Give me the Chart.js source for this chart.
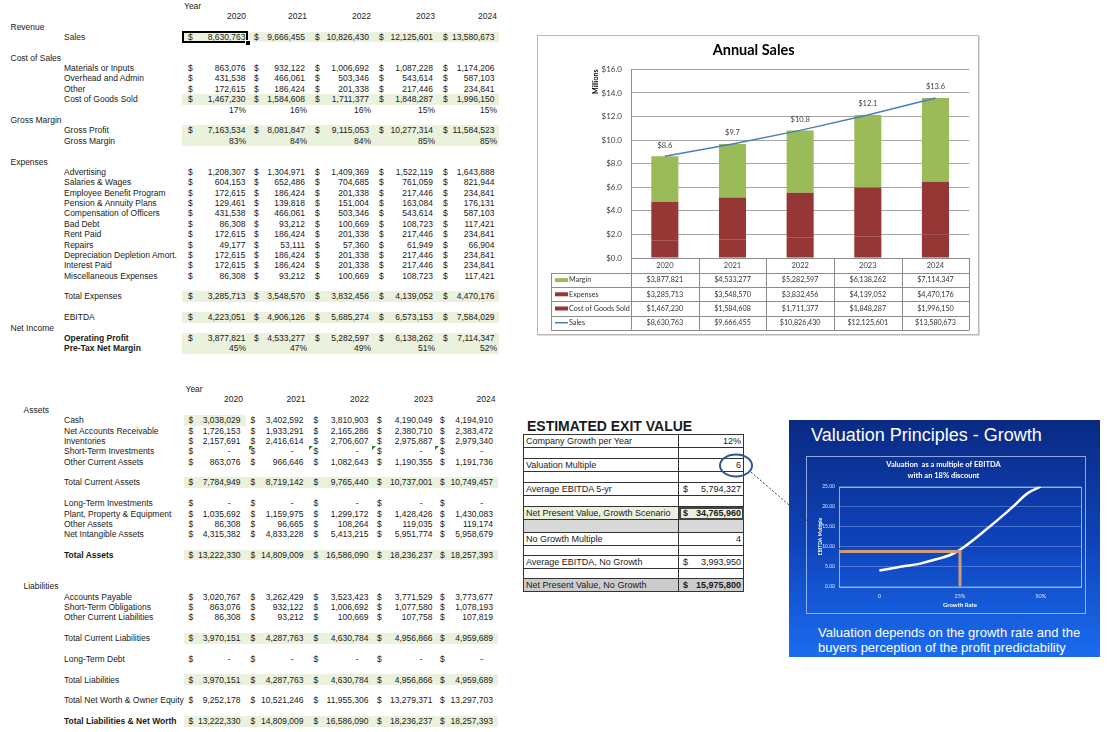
<!DOCTYPE html>
<html>
<head>
<meta charset="utf-8">
<script src="https://cdn.jsdelivr.net/npm/chart.js@4.4.1/dist/chart.umd.min.js"></script>
<style>
body{margin:0;background:#fff;width:1117px;height:732px;position:relative;overflow:hidden;font-family:"Liberation Sans",Arial,sans-serif;color:#1a1a1a}
.t{position:absolute;height:12px;line-height:12px;font-size:8.5px;white-space:nowrap}
.band{position:absolute;background:#eaf1dd}
#salesBox{position:absolute;left:537px;top:35px;width:440px;height:298px;border:1px solid #b8b8b8;box-shadow:1px 1px 0 #dcdcdc}
#salesCanvas{position:absolute;left:538px;top:36px}
#exitTitle{position:absolute;left:527px;top:418px;font-size:14px;font-weight:bold;line-height:16px}
#exitTable{position:absolute;left:523px;top:434px;border-collapse:collapse;font-size:9px;table-layout:fixed}
#exitTable td{border:1px solid #333;padding:0 2px;white-space:nowrap;line-height:10px}
#panel{position:absolute;left:789px;top:420px;width:311px;height:237px;background:linear-gradient(to bottom,#0a2a83 0%,#0e42b8 50%,#1a6cf0 100%)}
#panelTitle{position:absolute;left:22px;top:4px;font-size:18px;color:#fff;line-height:22px}
#panelText{position:absolute;left:29px;top:205px;font-size:13px;color:#fff;line-height:15px}
#valFrame{position:absolute;left:17px;top:36px;width:280px;height:158px;border:1px solid rgba(190,205,250,0.75);box-sizing:border-box}
#valCanvas{position:absolute;left:17px;top:36px}
svg{position:absolute;left:0;top:0}
</style>
</head>
<body>
<div id="sheet"></div>
<div id="salesBox"></div>
<canvas id="salesCanvas" width="440" height="297" style="width:440px;height:297px"></canvas>
<div id="exitTitle">ESTIMATED EXIT VALUE</div>
<table id="exitTable"><colgroup><col style="width:155px"><col style="width:65px"></colgroup><tbody id="exitBody"></tbody></table>
<div id="panel">
  <div id="panelTitle">Valuation Principles - Growth</div>
  <div id="valFrame"></div>
  <canvas id="valCanvas" width="280" height="158" style="width:280px;height:158px"></canvas>
  <div id="panelText">Valuation depends on the growth rate and the<br>buyers perception of the profit predictability</div>
</div>
<svg width="1117" height="732">
  <ellipse cx="736" cy="465.5" rx="16" ry="11" fill="none" stroke="#2f5597" stroke-width="2"/>
  <line x1="751" y1="472" x2="842" y2="551" stroke="#333" stroke-width="1" stroke-dasharray="2,2"/>
</svg>
<script>
// ---- data ----
const years = ['2020', '2021', '2022', '2023', '2024'];
const salesValues = [8630763, 9666455, 10826430, 12125601, 13580673];
const cogsValues = [1467230, 1584608, 1711377, 1848287, 1996150];
const expenseValues = [3285713, 3548570, 3832456, 4139052, 4470176];
const marginValues = [3877821, 4533277, 5282597, 6138262, 7114347];
const grossProfitValues = [7163534, 8081847, 9115053, 10277314, 11584523];
const ebitdaValues = [4223051, 4906126, 5685274, 6573153, 7584029];
const cogsPct = [17, 16, 16, 15, 15];
const grossMarginPct = [83, 84, 84, 85, 85];
const netMarginPct = [45, 47, 49, 51, 52];

const costItems = [
  ['Materials or Inputs', [863076, 932122, 1006692, 1087228, 1174206]],
  ['Overhead and Admin', [431538, 466061, 503346, 543614, 587103]],
  ['Other', [172615, 186424, 201338, 217446, 234841]]
];
const expenseItems = [
  ['Advertising', [1208307, 1304971, 1409369, 1522119, 1643888]],
  ['Salaries & Wages', [604153, 652486, 704685, 761059, 821944]],
  ['Employee Benefit Program', [172615, 186424, 201338, 217446, 234841]],
  ['Pension & Annuity Plans', [129461, 139818, 151004, 163084, 176131]],
  ['Compensation of Officers', [431538, 466061, 503346, 543614, 587103]],
  ['Bad Debt', [86308, 93212, 100669, 108723, 117421]],
  ['Rent Paid', [172615, 186424, 201338, 217446, 234841]],
  ['Repairs', [49177, 53111, 57360, 61949, 66904]],
  ['Depreciation Depletion Amort.', [172615, 186424, 201338, 217446, 234841]],
  ['Interest Paid', [172615, 186424, 201338, 217446, 234841]],
  ['Miscellaneous Expenses', [86308, 93212, 100669, 108723, 117421]]
];

const currentAssetItems = [
  ['Cash', [3038029, 3402592, 3810903, 4190049, 4194910]],
  ['Net Accounts Receivable', [1726153, 1933291, 2165286, 2380710, 2383472]],
  ['Inventories', [2157691, 2416614, 2706607, 2975887, 2979340]],
  ['Short-Term Investments', [0, 0, 0, 0, 0]],
  ['Other Current Assets', [863076, 966646, 1082643, 1190355, 1191736]]
];
const totalCurrentAssets = [7784949, 8719142, 9765440, 10737001, 10749457];
const longTermItems = [
  ['Long-Term Investments', [0, 0, 0, 0, 0]],
  ['Plant, Property & Equipment', [1035692, 1159975, 1299172, 1428426, 1430083]],
  ['Other Assets', [86308, 96665, 108264, 119035, 119174]],
  ['Net Intangible Assets', [4315382, 4833228, 5413215, 5951774, 5958679]]
];
const totalAssets = [13222330, 14809009, 16586090, 18236237, 18257393];
const liabilityItems = [
  ['Accounts Payable', [3020767, 3262429, 3523423, 3771529, 3773677]],
  ['Short-Term Obligations', [863076, 932122, 1006692, 1077580, 1078193]],
  ['Other Current Liabilities', [86308, 93212, 100669, 107758, 107819]]
];
const totalCurrentLiabilities = [3970151, 4287763, 4630784, 4956866, 4959689];
const longTermDebt = [0, 0, 0, 0, 0];
const totalLiabilities = [3970151, 4287763, 4630784, 4956866, 4959689];
const netWorth = [9252178, 10521246, 11955306, 13279371, 13297703];
const totalLiabNetWorth = [13222330, 14809009, 16586090, 18236237, 18257393];

const exitLabels = ['Company Growth per Year', '', 'Valuation Multiple', '', 'Average EBITDA 5-yr', '',
  'Net Present Value, Growth Scenario', '', 'No Growth Multiple', '', 'Average EBITDA, No Growth', '',
  'Net Present Value, No Growth'];
const exitValues = ['12%', '', '6', '', 5794327, '', 34765960, '', '4', '', 3993950, '', 15975800];

const growthRates = [0, 7, 13, 17, 22, 25, 33, 41, 46, 50];
const ebitdaMultiples = [4.0, 5.0, 5.8, 6.7, 7.9, 9.2, 14.2, 19.7, 23.4, 25.0];
const growthTicks = [0, 25, 50];
const markerRate = 25;
const markerMultiple = 8.8;

// ---- spreadsheet ----
const sheet = document.getElementById('sheet');
const fmt = v => v.toLocaleString('en-US');

function txt(s, x, y, o = {}) {
  const d = document.createElement('div');
  d.className = 't';
  d.textContent = s;
  d.style.top = (y - 6) + 'px';
  if (o.right) {
    d.style.left = (x - 200) + 'px';
    d.style.width = '200px';
    d.style.textAlign = 'right';
  } else {
    d.style.left = x + 'px';
  }
  if (o.bold) d.style.fontWeight = 'bold';
  sheet.appendChild(d);
}
function band(x1, x2, y1, y2) {
  const d = document.createElement('div');
  d.className = 'band';
  d.style.left = x1 + 'px'; d.style.width = (x2 - x1) + 'px';
  d.style.top = y1 + 'px'; d.style.height = (y2 - y1) + 'px';
  sheet.appendChild(d);
}

const top1 = { y0: 5.8, dollar: [188, 254, 315, 379, 443], right: [245.5, 305, 369, 433, 494.5],
  pct: [246, 307, 371, 435, 497], band: [182, 499] };
const top2 = { y0: 389, dollar: [188.5, 250.5, 313.5, 377, 440], right: [240.5, 303.5, 368.5, 432.5, 493],
  pct: [243, 305.5, 369, 433, 495.5], band: [183.5, 497.5] };
const rowH = 10.38;

function rowY(s, i) { return s.y0 + i * rowH; }
function moneyRow(s, i, label, vals, o = {}) {
  const y = rowY(s, i);
  txt(label, 64, y, o);
  vals.forEach((v, k) => {
    txt('$', s.dollar[k], y);
    if (v === 0) txt('-', s.right[k] - 10, y, { right: true });
    else txt(fmt(v), s.right[k], y, { right: true });
  });
}
function pctRow(s, i, label, vals, o = {}) {
  const y = rowY(s, i);
  if (label) txt(label, 64, y, o);
  vals.forEach((v, k) => txt(v + '%', s.pct[k], y, { right: true }));
}
function bandRows(s, i1, i2) {
  band(s.band[0], s.band[1], rowY(s, i1) - 5.4, rowY(s, i2) + 5.4);
}
function header(s, x) {
  txt('Year', x, rowY(s, 0));
  years.forEach((yr, k) => txt(yr, s.pct[k], rowY(s, 1), { right: true }));
}

// income statement
[[3, 3], [9, 9], [12, 13], [28, 28], [30, 30], [32, 33]].forEach(r => bandRows(top1, r[0], r[1]));
header(top1, 184);
txt('Revenue', 10.5, rowY(top1, 2));
moneyRow(top1, 3, 'Sales', salesValues);
txt('Cost of Sales', 10.5, rowY(top1, 5));
costItems.forEach((r, k) => moneyRow(top1, 6 + k, r[0], r[1]));
moneyRow(top1, 9, 'Cost of Goods Sold', cogsValues);
pctRow(top1, 10, '', cogsPct);
txt('Gross Margin', 10.5, rowY(top1, 11));
moneyRow(top1, 12, 'Gross Profit', grossProfitValues);
pctRow(top1, 13, 'Gross Margin', grossMarginPct);
txt('Expenses', 10.5, rowY(top1, 15));
expenseItems.forEach((r, k) => moneyRow(top1, 16 + k, r[0], r[1]));
moneyRow(top1, 28, 'Total Expenses', expenseValues);
moneyRow(top1, 30, 'EBITDA', ebitdaValues);
txt('Net Income', 10.5, rowY(top1, 31));
moneyRow(top1, 32, 'Operating Profit', marginValues, { bold: true });
pctRow(top1, 33, 'Pre-Tax Net Margin', netMarginPct, { bold: true });

// selected cell
const sel = document.createElement('div');
sel.style.cssText = 'position:absolute;left:182px;top:31px;width:62px;height:8px;border:2px solid #000';
sheet.appendChild(sel);
const handle = document.createElement('div');
handle.style.cssText = 'position:absolute;left:245px;top:40px;width:4px;height:4px;background:#000;border:1px solid #fff';
sheet.appendChild(handle);

// balance sheet
band(183.5, 246, rowY(top2, 3) - 5.4, rowY(top2, 3) + 5.4);
[[9, 9], [16, 16], [24, 24], [28, 28], [32, 32]].forEach(r => bandRows(top2, r[0], r[1]));
header(top2, 185.5);
txt('Assets', 23.5, rowY(top2, 2));
currentAssetItems.forEach((r, k) => moneyRow(top2, 3 + k, r[0], r[1]));
[249, 309, 371.5, 435].forEach(x => {
  const tri = document.createElement('div');
  tri.style.cssText = 'position:absolute;left:' + x + 'px;top:' + (rowY(top2, 6) - 5) + 'px;width:0;height:0;border-top:4px solid #1f8a1f;border-right:4px solid transparent';
  sheet.appendChild(tri);
});
moneyRow(top2, 9, 'Total Current Assets', totalCurrentAssets);
longTermItems.forEach((r, k) => moneyRow(top2, 11 + k, r[0], r[1]));
moneyRow(top2, 16, 'Total Assets', totalAssets, { bold: true });
txt('Liabilities', 23.5, rowY(top2, 19));
liabilityItems.forEach((r, k) => moneyRow(top2, 20 + k, r[0], r[1]));
moneyRow(top2, 24, 'Total Current Liabilities', totalCurrentLiabilities);
moneyRow(top2, 26, 'Long-Term Debt', longTermDebt);
moneyRow(top2, 28, 'Total Liabilities', totalLiabilities);
moneyRow(top2, 30, 'Total Net Worth & Owner Equity', netWorth);
moneyRow(top2, 32, 'Total Liabilities & Net Worth', totalLiabNetWorth, { bold: true });

// exit value table
const exitHeights = [13, 11, 13, 11, 13, 11, 13, 13, 13, 10, 13, 10, 13];
const exitBody = document.getElementById('exitBody');
exitLabels.forEach((lab, i) => {
  const tr = document.createElement('tr');
  tr.style.height = exitHeights[i] + 'px';
  const a = document.createElement('td');
  const b = document.createElement('td');
  a.textContent = lab;
  const v = exitValues[i];
  if (typeof v === 'number') {
    b.innerHTML = '<span style="float:left;padding-left:2px">$</span>' + fmt(v);
  } else {
    b.textContent = v;
  }
  b.style.textAlign = 'right';
  if (i === 6) {
    a.style.background = '#eaf1dd'; b.style.background = '#eaf1dd';
    b.style.fontWeight = 'bold'; b.style.outline = '2px solid #444'; b.style.outlineOffset = '-2px';
  }
  if (i === 7) { a.style.background = '#d9d9d9'; b.style.background = '#d9d9d9'; }
  if (i === 12) { a.style.background = '#cccccc'; b.style.background = '#cccccc'; b.style.fontWeight = 'bold'; }
  tr.appendChild(a); tr.appendChild(b);
  exitBody.appendChild(tr);
});

// ---- Annual Sales chart ----
Chart.defaults.font.family = 'Lato';
const toM = v => v / 1e6;

const salesTable = {
  id: 'salesTable',
  afterDatasetsDraw(chart) {
    const ctx = chart.ctx;
    const meta = chart.getDatasetMeta(0);
    ctx.save();
    ctx.font = '7.5px Lato';
    ctx.fillStyle = '#404040';
    ctx.textAlign = 'center';
    ctx.textBaseline = 'middle';
    meta.data.forEach((p, i) => ctx.fillText('$' + toM(salesValues[i]).toFixed(1), p.x, p.y - 11));
    ctx.restore();
  },
  afterDraw(chart) {
    const ctx = chart.ctx, xs = chart.scales.x;
    const step = (xs.right - xs.left) / years.length;
    const top = xs.bottom, h = 14.2, keyLeft = 13;
    const rows = [
      ['Margin', marginValues, '#9bbb59', 'box'],
      ['Expenses', expenseValues, '#953735', 'box'],
      ['Cost of Goods Sold', cogsValues, '#953735', 'box'],
      ['Sales', salesValues, '#4a7ebb', 'line']
    ];
    const bottom = top + rows.length * h;
    ctx.save();
    ctx.strokeStyle = '#8c8c8c';
    ctx.lineWidth = 1;
    const seg = (x1, y1, x2, y2) => { ctx.beginPath(); ctx.moveTo(x1, y1); ctx.lineTo(x2, y2); ctx.stroke(); };
    for (let r = 0; r <= rows.length; r++) {
      const y = Math.round(top + r * h) + 0.5;
      seg(keyLeft, y, xs.right, y);
    }
    seg(keyLeft + 0.5, top, keyLeft + 0.5, bottom);
    for (let i = 0; i <= years.length; i++) {
      const x = Math.round(xs.left + i * step) + 0.5;
      seg(x, xs.top, x, bottom);
    }
    ctx.font = '7.2px Lato';
    ctx.textBaseline = 'middle';
    rows.forEach((r, ri) => {
      const y = top + ri * h + h / 2;
      if (r[3] === 'box') {
        ctx.fillStyle = r[2];
        ctx.fillRect(keyLeft + 4, y - 2, 13, 4);
      } else {
        ctx.strokeStyle = r[2];
        ctx.lineWidth = 1.5;
        seg(keyLeft + 4, y, keyLeft + 17, y);
      }
      ctx.fillStyle = '#333';
      ctx.textAlign = 'left';
      ctx.fillText(r[0], keyLeft + 18, y);
      ctx.textAlign = 'center';
      r[1].forEach((v, i) => ctx.fillText('$' + fmt(v), xs.getPixelForValue(i), y));
    });
    ctx.restore();
  }
};

new Chart(document.getElementById('salesCanvas'), {
  data: {
    labels: years,
    datasets: [
      { type: 'line', label: 'Sales', data: salesValues.map(toM), borderColor: '#4a7ebb', borderWidth: 1.5,
        pointRadius: 0, tension: 0, stack: 'sales', order: 0 },
      { type: 'bar', label: 'Cost of Goods Sold', data: cogsValues.map(toM), backgroundColor: '#953735', stack: 'cost', order: 1 },
      { type: 'bar', label: 'Expenses', data: expenseValues.map(toM), backgroundColor: '#953735', stack: 'cost', order: 1 },
      { type: 'bar', label: 'Margin', data: marginValues.map(toM), backgroundColor: '#9bbb59', stack: 'cost', order: 1 }
    ]
  },
  options: {
    responsive: false,
    animation: false,
    datasets: { bar: { categoryPercentage: 1, barPercentage: 0.4 } },
    layout: { padding: { left: 0, right: 8.7, top: 0, bottom: 60 } },
    plugins: {
      legend: { display: false },
      tooltip: { enabled: false },
      title: { display: true, text: 'Annual Sales', color: '#000', font: { size: 14.5, weight: 'bold' },
        padding: { top: 6, bottom: 10 } }
    },
    scales: {
      x: {
        stacked: true,
        grid: { display: false, drawTicks: false },
        border: { color: '#8c8c8c' },
        ticks: { color: '#404040', font: { size: 7.5 }, padding: 3 },
        afterFit(s) { s.height = 15; }
      },
      y: {
        stacked: true, min: 0, max: 16,
        grid: { color: '#a6a6a6', drawTicks: false },
        border: { color: '#8c8c8c' },
        ticks: { stepSize: 2, color: '#404040', font: { size: 8 }, padding: 9,
          callback: v => '$' + v.toFixed(1) },
        title: { display: true, text: 'Millions', align: 'end', color: '#000',
          font: { size: 7, weight: 'bold' }, padding: { top: 54, bottom: 0 } },
        afterFit(s) { s.width = 93; }
      }
    }
  },
  plugins: [salesTable]
});

// ---- Valuation multiple chart ----
const plotBorder = {
  id: 'plotBorder',
  beforeDatasetsDraw(chart) {
    const a = chart.chartArea, ctx = chart.ctx;
    ctx.save();
    ctx.strokeStyle = 'rgba(175,195,245,0.85)';
    ctx.lineWidth = 1;
    ctx.strokeRect(Math.round(a.left) + 0.5, Math.round(a.top) + 0.5, Math.round(a.right - a.left), Math.round(a.bottom - a.top));
    ctx.restore();
  }
};

new Chart(document.getElementById('valCanvas'), {
  type: 'line',
  data: {
    datasets: [
      { label: 'Marker', data: [{ x: -12.5, y: markerMultiple }, { x: markerRate, y: markerMultiple }, { x: markerRate, y: 0 }],
        borderColor: '#cf9d7c', borderWidth: 3, pointRadius: 0, tension: 0 },
      { label: 'EBITDA Multiple', data: growthRates.map((g, i) => ({ x: g, y: ebitdaMultiples[i] })),
        borderColor: '#ffffff', borderWidth: 2.5, pointRadius: 0, cubicInterpolationMode: 'monotone' }
    ]
  },
  options: {
    responsive: false,
    animation: false,
    layout: { padding: { left: 0, right: 5, top: 0, bottom: 3 } },
    plugins: {
      legend: { display: false },
      tooltip: { enabled: false },
      title: { display: true, text: ['Valuation  as a multiple of EBITDA', 'with an 18% discount'], color: '#fff',
        font: { size: 7.5, weight: 'bold', lineHeight: 1.35 }, padding: { top: 4, bottom: 6.5 } }
    },
    scales: {
      x: {
        type: 'linear', min: -12.5, max: 62.5,
        grid: { display: false, drawTicks: false },
        border: { display: false },
        afterBuildTicks(s) { s.ticks = growthTicks.map(v => ({ value: v })); },
        ticks: { color: '#dfe6ff', font: { size: 5.5 }, padding: 6, callback: v => v === 0 ? '0' : v + '%' },
        title: { display: true, text: 'Growth Rate', color: '#fff', font: { size: 6, weight: 'bold' }, padding: { top: 0, bottom: 2 } },
        afterFit(s) { s.height = 24.5; }
      },
      y: {
        min: 0, max: 25,
        grid: { color: 'rgba(140,170,240,0.45)', drawTicks: false },
        border: { display: false },
        ticks: { stepSize: 5, color: '#dfe6ff', font: { size: 5 }, padding: 4, callback: v => v.toFixed(2) },
        title: { display: true, text: 'EBITDA Multiple', color: '#fff', font: { size: 5, weight: 'bold' }, padding: { top: 11, bottom: 0 } },
        afterFit(s) { s.width = 33; }
      }
    }
  },
  plugins: [plotBorder]
});
</script>
</body>
</html>
